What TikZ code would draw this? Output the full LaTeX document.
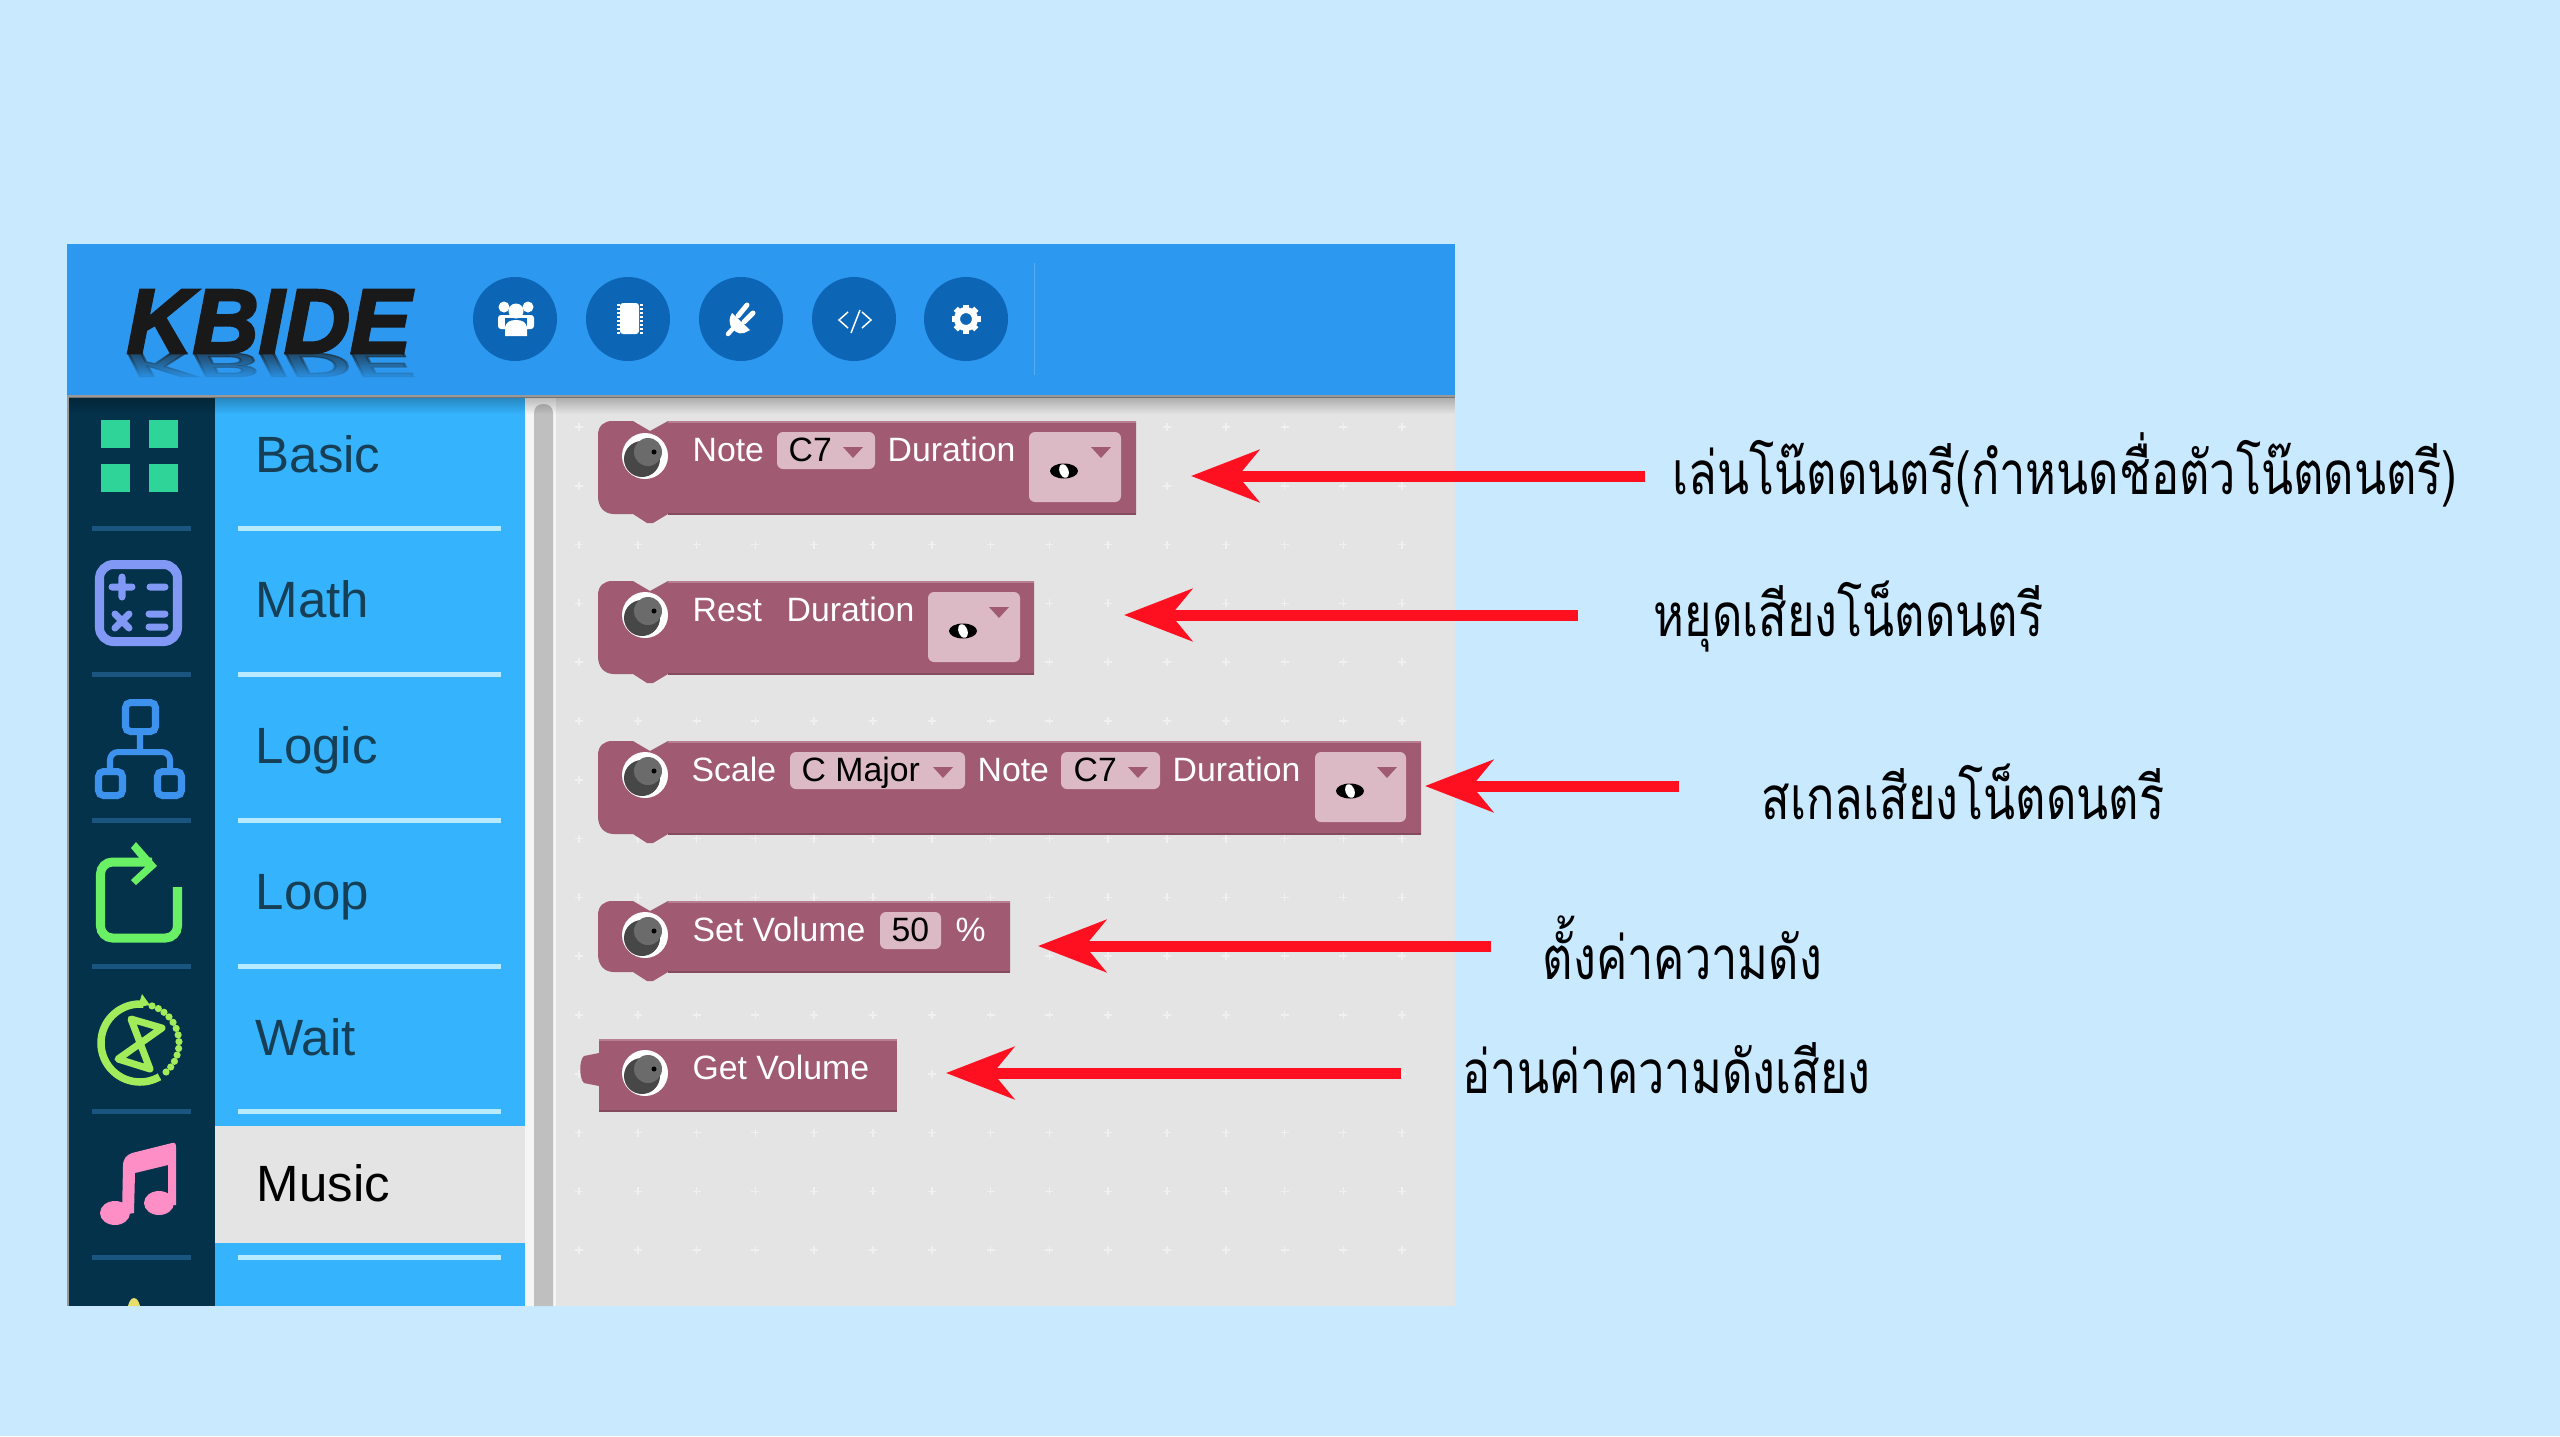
\documentclass[tikz,border=0pt]{standalone}
\usepackage{fontspec}
\usetikzlibrary{arrows.meta,fadings}
\setmainfont{Liberation Sans}
\newfontfamily\thaifont[Script=Thai,FakeStretch=0.78]{Loma}
\definecolor{pagebg}{HTML}{C9E9FF}
\definecolor{headerblue}{HTML}{2C98EF}
\definecolor{roundblue}{HTML}{0D65B6}
\definecolor{sidedark}{HTML}{04324B}
\definecolor{panelblue}{HTML}{35B3FD}
\definecolor{worktop}{HTML}{E4E4E4}
\definecolor{blockbody}{HTML}{A05A72}
\definecolor{blocklight}{HTML}{B87F93}
\definecolor{blockdark}{HTML}{844B5E}
\definecolor{fieldbg}{HTML}{DBBAC6}
\definecolor{arrowred}{HTML}{FF1020}
\definecolor{catink}{HTML}{163F55}
\definecolor{sepdark}{HTML}{1A5580}
\definecolor{seplight}{HTML}{B8EBFF}
\definecolor{gridgreen}{HTML}{2FD598}
\definecolor{calcblue}{HTML}{8298F5}
\definecolor{logicblue}{HTML}{3D92EE}
\definecolor{loopgreen}{HTML}{69F064}
\definecolor{waitgreen}{HTML}{A2EB5B}
\definecolor{notepink}{HTML}{FD8FC6}
\definecolor{sparkyellow}{HTML}{E8DE6C}
\tikzfading[name=fadedown, top color=transparent!0, bottom color=transparent!100]
\tikzfading[name=fadeup, top color=transparent!100, bottom color=transparent!0]
\tikzset{
    catlabel/.style={anchor=base west,text=#1,font=\fontsize{14.5pt}{16pt}\selectfont,inner sep=0pt},
    blocktext/.style={anchor=base west,text=white,font=\fontsize{9.6pt}{11pt}\selectfont,inner sep=0pt},
    fieldtext/.style={anchor=base west,text=black,font=\fontsize{9.6pt}{11pt}\selectfont,inner sep=0pt},
    thailabel/.style={anchor=base west,text=black,font=\thaifont\fontsize{17.1pt}{20pt}\selectfont,inner sep=0pt},
    logotext/.style={anchor=base west,inner sep=0pt,font=\fontsize{26pt}{28pt}\selectfont\bfseries\itshape\addfontfeature{FakeBold=3}},
    redarrow/.style={draw=arrowred,line width=0.11cm,-{Stealth[length=0.68cm,width=0.52cm,inset=0.21cm]}},
    field/.style={fill=fieldbg,rounded corners=0.06cm},
    headicon/.style={fill=roundblue}
}
\newcommand{\stackblock}[3]{%
    \fill[blockbody] (598,#2+14) .. controls (598,#2+5) and (604,#2) .. (612,#2) -- (633,#2) -- (650,#2+10) -- (668,#2) -- (#1,#2) -- (#1,#3) -- (668,#3) -- (653,#3+9) -- (647,#3+9) -- (633,#3) -- (614,#3) .. controls (604,#3) and (598,#3-7) .. (598,#3-18) -- cycle;
    \draw[blocklight,line width=0.02cm] (668,#2+1) -- (#1,#2+1);
    \draw[blockdark,line width=0.02cm] (668,#3) -- (#1,#3);
}
\newcommand{\buzzer}[2]{%
    \fill[white] (#1,#2) circle [radius=23];
    \fill[black!72] (#1-3,#2+3) circle [radius=18];
    \fill[black!58] (#1+3,#2-4) circle [radius=14];
    \fill[black] (#1+9,#2-4) circle [radius=2.5];
}
\newcommand{\droparrow}[2]{%
    \fill[blockbody] (#1-10,#2) -- (#1+10,#2) -- (#1,#2+11) -- cycle;
}
\newcommand{\wholenote}[2]{%
    \fill[black] (#1,#2) ellipse [x radius=14,y radius=7.5];
    \fill[white,rotate around={20:(#1,#2)}] (#1,#2) ellipse [x radius=4.5,y radius=7];
}
\begin{document}
\begin{tikzpicture}[x=0.01cm,y=-0.01cm]
        \fill[pagebg] (0,0) rectangle (2560,1436);
        \useasboundingbox (0,0) rectangle (2560,1436);
        \fill[headerblue] (67,244) rectangle (1455,395);
        \fill[sidedark] (69,396) rectangle (215,1306);
        \fill[panelblue] (215,396) rectangle (525,1306);
        \fill[black!4] (525,396) rectangle (556,1306);
        \fill[worktop] (556,396) rectangle (1455,1306);
        \fill[black!25] (534,1306) -- (534,413) .. controls (534,407) and (538,404) .. (543.5,404) .. controls (549,404) and (553,407) .. (553,413) -- (553,1306) -- cycle;
        \fill[worktop] (215,1126) rectangle (525,1243);
        \draw[black!40,line width=0.02cm] (68,396) -- (68,1306);
        \draw[black!40,line width=0.03cm] (67,396) -- (1455,396);
        \fill[black,opacity=0.25,path fading=fadedown] (69,397) rectangle (1455,414);
        \foreach \i in {0,...,14}
            \foreach \j in {0,...,14}
                \draw[black!6!white,line width=0.015cm] (579+58.8*\i-4,427+58.8*\j) -- ++(8,0) (579+58.8*\i,427+58.8*\j-4) -- ++(0,8);
        \foreach \y in {528,674,820,966,1111,1257} {
            \fill[sepdark] (92,\y-2.5) rectangle (191,\y+2.5);
            \fill[seplight] (238,\y-2.5) rectangle (501,\y+2.5);
        }
        \node[catlabel=catink] (basic) at (255,472) {Basic};
        \node[catlabel=catink] (math) at (255,617) {Math};
        \node[catlabel=catink] (logic) at (255,763) {Logic};
        \node[catlabel=catink] (loop) at (255,909) {Loop};
        \node[catlabel=catink] (wait) at (255,1055) {Wait};
        \node[catlabel=black] (music) at (256,1201) {Music};

        \node[logotext,text=black!90] (logo) at (126,353) {KBIDE};
        \node[logotext,text=black!90,opacity=0.6,yscale=-0.38,transform shape] (logoshadow) at (126,353) {KBIDE};
        \fill[headerblue,path fading=fadeup] (120,354) rectangle (425,380);
        \foreach \x in {515,628,741,854,966}
            \fill[headicon] (\x,319) circle [radius=42];
        \draw[white!20!headerblue,line width=0.01cm] (1034,263) -- (1034,375);

        \fill[white] (504,307) circle [radius=5.5] (528,307) circle [radius=5.5];
        \fill[white,rounded corners=0.03cm] (498,315) rectangle (534,329);
        \fill[roundblue] (505,318) rectangle (527,336);
        \fill[white] (516,311) circle [radius=7.5];
        \fill[white] (505,336) -- (505,329) .. controls (505,322) and (510,320) .. (516,320) .. controls (522,320) and (527,322) .. (527,329) -- (527,336) -- cycle;

        \fill[white,rounded corners=0.03cm] (620,303) rectangle (639,334);
        \draw[white,line width=0.03cm,dash pattern=on 0.02cm off 0.02cm] (618,304) -- (618,334) (641,304) -- (641,334);

        \draw[white,line width=0.045cm,line cap=round] (728,334) -- (737,324);
        \fill[white] (732,313) -- (750,330) -- (744,333) .. controls (738,335) and (733,330) .. (731,327) .. controls (729,322) and (729,318) .. (732,313) -- cycle;
        \draw[white,line width=0.05cm,line cap=round] (738,316) -- (747,305) (744,322) -- (753,313);

        \draw[white,line width=0.015cm] (848,312) -- (839,320) -- (848,328) (862,312) -- (871,320) -- (862,328) (860,310) -- (851,333);

        \foreach \a in {0,45,...,315}
            \draw[white,line width=0.06cm] ([shift={(\a:9)}]966,319) -- ([shift={(\a:14.5)}]966,319);
        \draw[white,line width=0.06cm] (966,319) circle [radius=9];

        \foreach \x/\y in {101/420,149/420,101/464,149/464}
            \fill[gridgreen] (\x,\y) rectangle ++(29,28);

        \draw[calcblue,line width=0.09cm,rounded corners=0.14cm] (99.5,564.5) rectangle (177.5,641.5);
        \draw[calcblue,line width=0.07cm,line cap=round] (112,587) -- (132,587) (122,577) -- (122,597) (150,587) -- (165,587) (115,614) -- (129,628) (129,614) -- (115,628) (149,614) -- (165,614) (149,627) -- (165,627);

        \draw[logicblue,line width=0.07cm,rounded corners=0.05cm] (125.5,702.5) rectangle (155.5,731.5) (98.5,771.5) rectangle (122.5,795.5) (157.5,771.5) rectangle (181.5,795.5);
        \draw[logicblue,line width=0.06cm,rounded corners=0.08cm] (110,771) -- (110,752) -- (170,752) -- (170,771) (140,735) -- (140,752);

        \draw[loopgreen,line width=0.09cm,rounded corners=0.12cm] (152,862) -- (100.5,862) -- (100.5,938) -- (177.5,938) -- (177.5,887);
        \fill[loopgreen] (157,866) -- (136,842) -- (131,848) -- (146,866) -- (131,880) -- (136,885) -- cycle;

        \draw[waitgreen,line width=0.075cm] ([shift={(-85:39)}]140,1043) arc [start angle=-85,end angle=-300,radius=39];
        \foreach \a in {-72,-62,...,50}
            \fill[waitgreen] ([shift={(\a:39)}]140,1043) circle [radius=3.6];
        \fill[waitgreen] (142,994) -- (150,1005) -- (138,1007) -- cycle;
        \draw[waitgreen,line width=0.07cm,line join=round] (131,1019) -- (162,1028) -- (118,1059) -- (150,1069) -- cycle;

        \fill[notepink] (115,1213) ellipse [x radius=15,y radius=12];
        \fill[notepink] (159,1203) ellipse [x radius=15,y radius=12];
        \fill[notepink] (122,1215) -- (123,1166) .. controls (123,1158) and (127,1155) .. (132,1153) -- (172,1143) .. controls (175,1142) and (176,1144) .. (176,1147) -- (176,1205) -- (168,1205) -- (168,1165) -- (135,1173) -- (134,1213) -- cycle;
        \fill[sparkyellow] (128,1306) .. controls (129,1302) and (131,1298) .. (134,1298) .. controls (137,1298) and (139,1302) .. (140,1306) -- cycle;

        \stackblock{1136}{421}{514}
        \buzzer{645}{456}
        \node[blocktext] (noteA) at (692,461) {Note};
        \fill[field] (777,432) rectangle (875,469);
        \node[fieldtext] (pitchA) at (788,461) {C7};
        \droparrow{853}{447}
        \node[blocktext] (durA) at (887,461) {Duration};
        \fill[field] (1029,432) rectangle (1121,502);
        \droparrow{1101}{447}
        \wholenote{1064}{471}

        \stackblock{1034}{581}{674}
        \buzzer{645}{615}
        \node[blocktext] (restB) at (692,621) {Rest};
        \node[blocktext] (durB) at (786,621) {Duration};
        \fill[field] (928,592) rectangle (1020,662);
        \droparrow{999}{607}
        \wholenote{963}{631}

        \stackblock{1421}{741}{834}
        \buzzer{645}{775}
        \node[blocktext] (scaleC) at (691,781) {Scale};
        \fill[field] (790,752) rectangle (965,789);
        \node[fieldtext] (majorC) at (801,781) {C Major};
        \droparrow{943}{767}
        \node[blocktext] (noteC) at (977,781) {Note};
        \fill[field] (1061,752) rectangle (1160,789);
        \node[fieldtext] (pitchC) at (1073,781) {C7};
        \droparrow{1138}{767}
        \node[blocktext] (durC) at (1172,781) {Duration};
        \fill[field] (1315,752) rectangle (1406,822);
        \droparrow{1387}{767}
        \wholenote{1350}{791}

        \stackblock{1010}{901}{972}
        \buzzer{645}{935}
        \node[blocktext] (volD) at (692,941) {Set Volume};
        \fill[field] (880,912) rectangle (941,949);
        \node[fieldtext] (fiftyD) at (891,941) {50};
        \node[blocktext] (pctD) at (955,941) {\%};

        \fill[blockbody] (599,1039) rectangle (897,1111);
        \fill[blockbody] (599,1053) -- (584,1056) .. controls (579,1060) and (579,1078) .. (584,1083) -- (599,1086) -- cycle;
        \draw[blocklight,line width=0.02cm] (599,1040) -- (897,1040);
        \draw[blockdark,line width=0.02cm] (599,1111) -- (897,1111);
        \buzzer{645}{1073}
        \node[blocktext] (volE) at (692,1079) {Get Volume};

        \node[thailabel] (playlabel) at (1672,494) {เล่นโน๊ตดนตรี(กำหนดชื่อตัวโน๊ตดนตรี)};
        \node[thailabel] (restlabel) at (1653,636) {หยุดเสียงโน็ตดนตรี};
        \node[thailabel] (scalelabel) at (1761,819) {สเกลเสียงโน็ตดนตรี};
        \node[thailabel] (setlabel) at (1542,979) {ตั้งค่าความดัง};
        \node[thailabel] (getlabel) at (1462,1093) {อ่านค่าความดังเสียง};

        \coordinate (playtail) at (1645,476);
        \coordinate (playtip) at (1191,476);
        \coordinate (resttail) at (1578,615);
        \coordinate (resttip) at (1124,615);
        \coordinate (scaletail) at (1679,786);
        \coordinate (scaletip) at (1425,786);
        \coordinate (settail) at (1491,946);
        \coordinate (settip) at (1038,946);
        \coordinate (gettail) at (1401,1073);
        \coordinate (gettip) at (946,1073);
        \draw[redarrow] (playtail) -- (playtip);
        \draw[redarrow] (resttail) -- (resttip);
        \draw[redarrow] (scaletail) -- (scaletip);
        \draw[redarrow] (settail) -- (settip);
        \draw[redarrow] (gettail) -- (gettip);
    \end{tikzpicture}
\end{document}
